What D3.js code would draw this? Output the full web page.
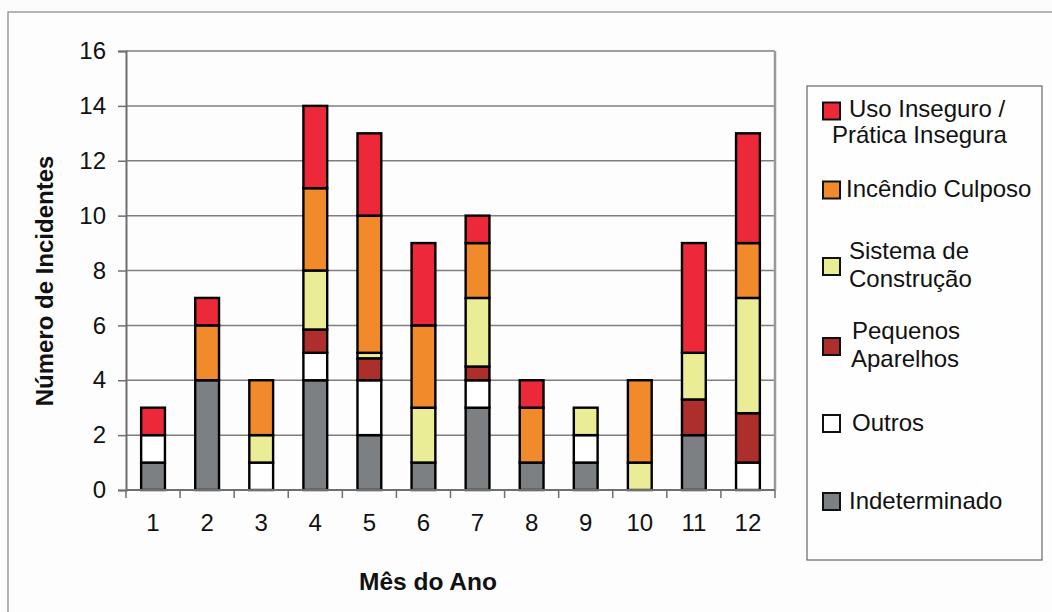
<!DOCTYPE html>
<html>
<head>
<meta charset="utf-8">
<script src="https://cdn.jsdelivr.net/npm/d3@7/dist/d3.min.js"></script>
<style>
  html, body { margin: 0; padding: 0; background: #fcfcfc; }
  svg { display: block; }
  svg text { font-family: "Liberation Sans", Arial, sans-serif; }
</style>
</head>
<body>
<svg id="chart" width="1052" height="612"></svg>
<script>
// ---- Data ----
const months = ["1","2","3","4","5","6","7","8","9","10","11","12"];
const seriesKeys = ["Indeterminado","Outros","Pequenos Aparelhos","Sistema de Construção","Incêndio Culposo","Uso Inseguro / Prática Insegura"];
const indeterminado   = [1, 4, 0, 4,   2,   1, 3,   1, 1, 0, 2,   0];
const outros          = [1, 0, 1, 1,   2,   0, 1,   0, 1, 0, 0,   1];
const pequenos        = [0, 0, 0, 0.85,0.8, 0, 0.5, 0, 0, 0, 1.3, 1.8];
const sistema         = [0, 0, 1, 2.15,0.2, 2, 2.5, 0, 1, 1, 1.7, 4.2];
const incendio        = [0, 2, 2, 3,   5,   3, 2,   2, 0, 3, 0,   2];
const usoInseguro     = [1, 1, 0, 3,   3,   3, 1,   1, 0, 0, 4,   4];
const yTicks = [0, 2, 4, 6, 8, 10, 12, 14, 16];
const legendLabels = [
  ["Uso Inseguro /", "Prática Insegura"],
  ["Incêndio Culposo"],
  ["Sistema de", "Construção"],
  ["Pequenos", "Aparelhos"],
  ["Outros"],
  ["Indeterminado"]
];
const xTitle = "Mês do Ano";
const yTitle = "Número de Incidentes";

// ---- Styles ----
const colors = {
  "Indeterminado": "#7d8083",
  "Outros": "#ffffff",
  "Pequenos Aparelhos": "#ad2f2b",
  "Sistema de Construção": "#eaec96",
  "Incêndio Culposo": "#f18a2b",
  "Uso Inseguro / Prática Insegura": "#ed2839"
};
const legendOrder = ["Uso Inseguro / Prática Insegura","Incêndio Culposo","Sistema de Construção","Pequenos Aparelhos","Outros","Indeterminado"];

const table = months.map((m, i) => ({
  month: m,
  "Indeterminado": indeterminado[i],
  "Outros": outros[i],
  "Pequenos Aparelhos": pequenos[i],
  "Sistema de Construção": sistema[i],
  "Incêndio Culposo": incendio[i],
  "Uso Inseguro / Prática Insegura": usoInseguro[i]
}));

const FONT = "'Liberation Sans', Arial, sans-serif";
const svg = d3.select("#chart");
const W = 1052, H = 612;
const plot = { left: 126, right: 775, top: 51, bottom: 490 };

svg.append("rect").attr("width", W).attr("height", H).attr("fill", "#fcfcfc");
// outer frame
svg.append("rect").attr("x", 8).attr("y", 12).attr("width", W + 20).attr("height", H + 20)
  .attr("fill", "#fdfdfd").attr("stroke", "#9a9a9a").attr("stroke-width", 1.5);

const x = d3.scaleBand().domain(months).range([plot.left, plot.right]).paddingInner(0.56).paddingOuter(0.28);
const y = d3.scaleLinear().domain([0, 16]).range([plot.bottom, plot.top]);

// gridlines
svg.append("g").selectAll("line").data(yTicks.filter(d => d > 0)).join("line")
  .attr("x1", plot.left).attr("x2", plot.right)
  .attr("y1", d => y(d)).attr("y2", d => y(d))
  .attr("stroke", "#7f7f7f").attr("stroke-width", 1.5);
// right plot border
svg.append("line").attr("x1", plot.right).attr("x2", plot.right)
  .attr("y1", plot.top).attr("y2", plot.bottom)
  .attr("stroke", "#9a9a9a").attr("stroke-width", 2.5);

// stacked bars
const stack = d3.stack().keys(seriesKeys);
const stacked = stack(table);
svg.append("g").selectAll("g").data(stacked).join("g")
  .attr("fill", d => colors[d.key])
  .selectAll("rect").data(d => d.filter(p => p[1] - p[0] > 0)).join("rect")
  .attr("x", d => x(d.data.month))
  .attr("width", x.bandwidth())
  .attr("y", d => y(d[1]))
  .attr("height", d => y(d[0]) - y(d[1]))
  .attr("stroke", "#000").attr("stroke-width", 2.4);

// y axis
const yAxis = d3.axisLeft(y).tickValues(yTicks).tickSize(8).tickPadding(12).tickFormat(d3.format("d"));
const gy = svg.append("g").attr("transform", `translate(${plot.left},0)`).call(yAxis);
gy.select(".domain").attr("stroke", "#6f6f6f").attr("stroke-width", 2);
gy.selectAll(".tick line").attr("stroke", "#6f6f6f").attr("stroke-width", 1.5);
gy.selectAll(".tick text").attr("font-size", 24).attr("fill", "#111").attr("font-family", FONT);

// x axis
const gx = svg.append("g").attr("transform", `translate(0,${plot.bottom})`);
gx.append("line").attr("x1", plot.left).attr("x2", plot.right).attr("stroke", "#6f6f6f").attr("stroke-width", 2);
const boundaries = d3.range(months.length + 1).map(i => plot.left + i * (plot.right - plot.left) / months.length);
gx.selectAll("line.tk").data(boundaries).join("line").attr("class", "tk")
  .attr("x1", d => d).attr("x2", d => d).attr("y1", 0).attr("y2", 8)
  .attr("stroke", "#6f6f6f").attr("stroke-width", 1.5);
gx.selectAll("text").data(months).join("text")
  .attr("x", d => x(d) + x.bandwidth() / 2).attr("y", 41)
  .attr("text-anchor", "middle").attr("font-size", 24).attr("fill", "#111")
  .attr("font-family", FONT)
  .text(d => d);

// axis titles
svg.append("text").attr("x", 428).attr("y", 590).attr("text-anchor", "middle")
  .attr("font-family", FONT)
  .attr("font-size", 24.5).attr("font-weight", "bold").attr("fill", "#111").text(xTitle);
svg.append("text").attr("transform", "translate(53,281) rotate(-90)").attr("text-anchor", "middle")
  .attr("font-family", FONT)
  .attr("font-size", 24).attr("font-weight", "bold").attr("fill", "#111").text(yTitle);

// legend
const lg = svg.append("g");
lg.append("rect").attr("x", 807).attr("y", 86).attr("width", 235).attr("height", 474)
  .attr("fill", "#fefefe").attr("stroke", "#666").attr("stroke-width", 1.2);
const swatchY = [111, 190, 266.5, 346.5, 423.5, 501.5];
const lineX = [[849, 832], [846], [849, 849], [852, 851], [852], [849]];
const lineBase = [[117, 143], [197], [259, 287], [339, 367], [431], [509]];
legendOrder.forEach((key, i) => {
  lg.append("rect").attr("x", 823).attr("y", swatchY[i] - 8.5).attr("width", 17).attr("height", 17)
    .attr("fill", colors[key]).attr("stroke", "#111").attr("stroke-width", 2);
  legendLabels[i].forEach((t, j) => {
    lg.append("text").attr("x", lineX[i][j]).attr("y", lineBase[i][j])
      .attr("font-family", FONT)
      .attr("font-size", 24).attr("fill", "#111").text(t);
  });
});
</script>
</body>
</html>
